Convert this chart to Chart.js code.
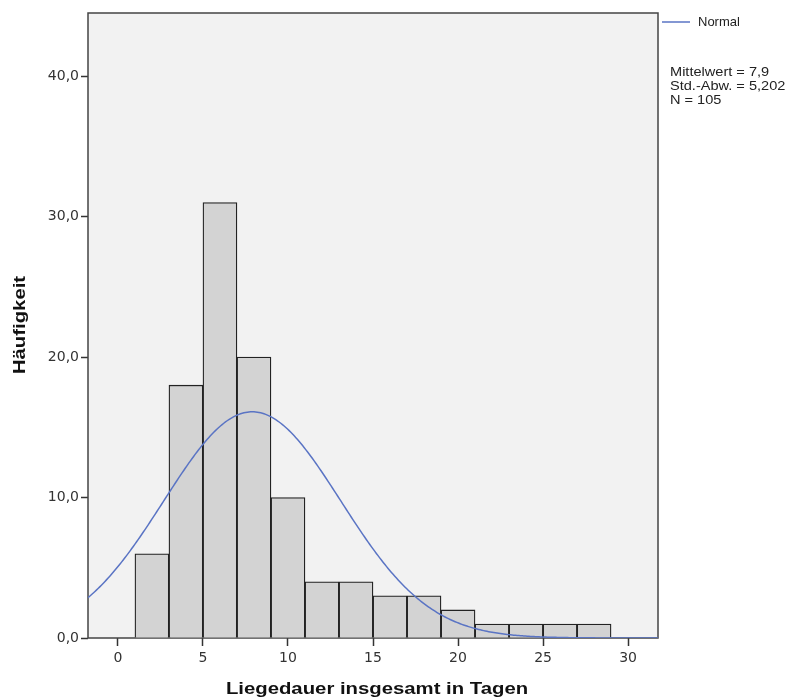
<!DOCTYPE html>
<html>
<head>
<meta charset="utf-8">
<script src="https://cdn.jsdelivr.net/npm/chart.js@4.4.1/dist/chart.umd.min.js"></script>
<style>
  html, body { margin: 0; padding: 0; background: #fff; }
  #wrap { width: 796px; height: 700px; position: relative; }
</style>
</head>
<body>
<div id="wrap"><canvas id="hist" width="796" height="700"></canvas></div>
<script>
// Histogram of total length of stay (days), bin width 2
const binCenters = [2, 4, 6, 8, 10, 12, 14, 16, 18, 20, 22, 24, 26, 28];
const binCounts  = [6, 18, 31, 20, 10, 4, 4, 3, 3, 2, 1, 1, 1, 1];
const xTicks = [0, 5, 10, 15, 20, 25, 30];
const yTicks = [0, 10, 20, 30, 40];
const statLines = ['Mittelwert = 7,9', 'Std.-Abw. = 5,202', 'N = 105'];
const mean = 7.9;
const sd = 5.202;
const n = 105;
const binWidth = 2;
const xMin = -1.76, xMax = 31.76, yMax = 44.5;

// Fitted normal curve scaled to counts per bin
const normalCurve = [];
for (let i = 0; i <= 340; i++) {
  const x = xMin + (xMax - xMin) * i / 340;
  const z = (x - mean) / sd;
  normalCurve.push({ x: x, y: n * binWidth / (sd * Math.sqrt(2 * Math.PI)) * Math.exp(-0.5 * z * z) });
}

const fontTick = "'DejaVu Sans', sans-serif";
const fontLabel = "'Liberation Sans', Arial, sans-serif";

// Draw text widened along its baseline
function wideText(ctx, text, x, y, stretch, angle) {
  ctx.save();
  ctx.translate(x, y);
  if (angle) ctx.rotate(angle);
  ctx.scale(stretch, 1);
  ctx.fillText(text, 0, 0);
  ctx.restore();
}

const decor = {
  id: 'decor',
  beforeDraw(chart) {
    const { ctx, chartArea: a } = chart;
    ctx.save();
    ctx.fillStyle = '#ffffff';
    ctx.fillRect(0, 0, chart.width, chart.height);
    ctx.fillStyle = '#f2f2f2';
    ctx.fillRect(a.left, a.top, a.right - a.left, a.bottom - a.top);
    ctx.restore();
  },
  beforeDatasetsDraw(chart) {
    const { ctx, chartArea: a } = chart;
    ctx.save();
    ctx.strokeStyle = '#444';
    ctx.lineWidth = 1.5;
    ctx.strokeRect(a.left, a.top, a.right - a.left, a.bottom - a.top);
    ctx.restore();
  },
  afterDatasetsDraw(chart) {
    const { ctx } = chart;
    ctx.save();

    // Axis titles
    ctx.fillStyle = '#111';
    ctx.font = "bold 16px " + fontLabel;
    ctx.textAlign = 'center';
    ctx.textBaseline = 'middle';
    wideText(ctx, 'Liegedauer insgesamt in Tagen', 377, 690, 1.27, 0);
    wideText(ctx, 'Häufigkeit', 21, 325, 1.27, -Math.PI / 2);

    // Legend entry for the normal curve
    ctx.strokeStyle = '#5a74c4';
    ctx.lineWidth = 1.5;
    ctx.beginPath();
    ctx.moveTo(662, 22);
    ctx.lineTo(690, 22);
    ctx.stroke();
    ctx.fillStyle = '#222';
    ctx.font = "13px " + fontLabel;
    ctx.textAlign = 'left';
    wideText(ctx, 'Normal', 698, 22, 1.0, 0);

    // Summary statistics
    statLines.forEach((t, i) => wideText(ctx, t, 670, 72 + i * 14, 1.12, 0));
    ctx.restore();
  }
};

new Chart(document.getElementById('hist'), {
  data: {
    datasets: [
      {
        type: 'line',
        data: normalCurve,
        borderColor: '#5a74c4',
        borderWidth: 1.5,
        pointRadius: 0,
        tension: 0,
        order: 0
      },
      {
        type: 'bar',
        data: binCenters.map((c, i) => ({ x: c, y: binCounts[i] })),
        backgroundColor: '#d3d3d3',
        borderColor: '#222',
        borderWidth: 1.3,
        barPercentage: 1,
        categoryPercentage: 1,
        order: 1
      }
    ]
  },
  options: {
    responsive: false,
    animation: false,
    events: [],
    layout: { padding: { top: 13, right: 138, left: 0, bottom: 0 } },
    plugins: { legend: { display: false }, tooltip: { enabled: false } },
    scales: {
      x: {
        type: 'linear',
        offset: false,
        min: xMin,
        max: xMax,
        afterBuildTicks(s) { s.ticks = xTicks.map(v => ({ value: v })); },
        afterFit(s) { s.height = 62; },
        border: { display: false },
        grid: { offset: false, drawOnChartArea: false, drawTicks: true, tickLength: 8, color: '#333', tickWidth: 1.5 },
        ticks: { font: { family: fontTick, size: 14 }, color: '#333', padding: 4, maxRotation: 0 }
      },
      y: {
        type: 'linear',
        min: 0,
        max: yMax,
        afterBuildTicks(s) { s.ticks = yTicks.map(v => ({ value: v })); },
        afterFit(s) { s.width = 88; },
        border: { display: false },
        grid: { drawOnChartArea: false, drawTicks: true, tickLength: 7, color: '#333', tickWidth: 1.5 },
        ticks: {
          font: { family: fontTick, size: 14 },
          color: '#333',
          padding: 2,
          callback: v => v.toFixed(1).replace('.', ',')
        }
      }
    }
  },
  plugins: [decor]
});
</script>
</body>
</html>
